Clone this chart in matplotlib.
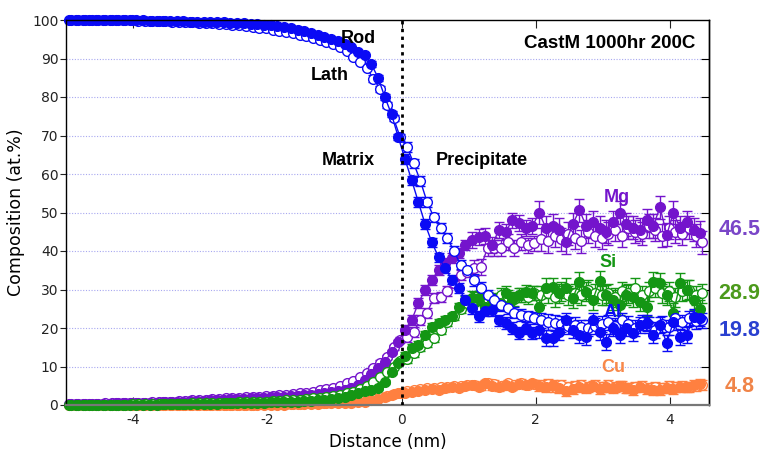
import numpy as np
import matplotlib
matplotlib.use('Agg')
import matplotlib.pyplot as plt

plt.rcParams['axes.unicode_minus'] = False

# sampling grids (nm): filled = lath profile, open = rod profile
distance_filled = np.round(np.arange(-4.95, 4.46, 0.1), 2)
distance_open = np.round(distance_filled + 0.03, 2)

al_filled = [99.9, 99.9, 99.9, 99.9, 99.9, 99.9, 99.9, 99.9, 99.9, 99.9,
             99.9, 99.9, 99.8, 99.8, 99.8, 99.8, 99.7, 99.7, 99.6, 99.6,
             99.5, 99.5, 99.4, 99.4, 99.3, 99.2, 99.1, 99.0, 98.9, 98.8,
             98.7, 98.5, 98.2, 97.9, 97.5, 97.1, 96.7, 96.2, 95.7, 95.1,
             94.5, 93.7, 92.9, 91.8, 90.8, 88.5, 85.0, 80.0, 75.5, 69.6,
             63.9, 58.4, 52.7, 47.0, 42.3, 38.4, 35.6, 32.5, 30.4, 27.3,
             25.2, 23.0, 24.5, 24.7, 22.0, 21.3, 20.0, 18.7, 20.0, 18.7,
             19.5, 17.4, 17.4, 19.0, 22.0, 19.5, 18.2, 17.7, 22.0, 19.0,
             16.4, 20.0, 18.2, 20.0, 18.7, 20.8, 21.3, 18.2, 20.8, 16.1,
             21.6, 17.7, 18.2, 22.9, 22.6]
al_open = [99.9, 99.9, 99.9, 99.9, 99.9, 99.9, 99.9, 99.9, 99.9, 99.9,
           99.8, 99.8, 99.8, 99.7, 99.7, 99.6, 99.6, 99.5, 99.4, 99.3,
           99.2, 99.1, 99.0, 98.9, 98.7, 98.6, 98.4, 98.2, 98.0, 97.8,
           97.5, 97.2, 96.9, 96.6, 96.2, 95.8, 95.3, 94.8, 94.3, 93.8,
           93.0, 92.0, 90.5, 89.0, 87.5, 84.8, 82.0, 78.0, 74.5, 69.5,
           67.0, 62.8, 58.2, 52.7, 48.8, 46.0, 43.4, 40.0, 36.4, 35.0,
           32.5, 30.4, 28.5, 27.3, 26.0, 25.2, 24.0, 23.4, 23.0, 22.6,
           22.0, 21.6, 21.3, 21.0, 20.5, 20.8, 20.2, 20.0, 20.5, 21.0,
           21.5, 20.5, 22.0, 21.0, 20.0, 21.5, 20.8, 19.5, 21.0, 20.2,
           22.5, 21.5, 22.5, 21.8, 22.0]

mg_filled = [0.2, 0.2, 0.2, 0.3, 0.3, 0.3, 0.3, 0.4, 0.4, 0.4,
             0.5, 0.5, 0.6, 0.6, 0.7, 0.8, 0.8, 0.9, 1.0, 1.1,
             1.1, 1.2, 1.3, 1.4, 1.5, 1.5, 1.6, 1.7, 1.8, 1.9,
             2.0, 2.1, 2.2, 2.3, 2.4, 2.5, 2.7, 2.9, 3.1, 3.3,
             3.6, 3.9, 4.4, 5.2, 6.4, 8.0, 9.6, 11.2, 13.8, 16.4,
             19.5, 22.0, 26.5, 29.9, 32.5, 35.0, 36.9, 38.2, 39.5, 41.6,
             42.9, 43.6, 43.9, 41.6, 45.5, 45.0, 48.0, 47.3, 46.0, 46.5,
             49.9, 46.0, 46.5, 45.5, 42.3, 47.0, 50.6, 46.5, 47.5, 46.0,
             45.0, 47.5, 49.9, 47.0, 46.0, 45.5, 48.0, 46.5, 51.4, 44.2,
             49.9, 46.0, 47.5, 45.5, 44.7]
mg_open = [0.2, 0.2, 0.3, 0.3, 0.3, 0.4, 0.4, 0.4, 0.5, 0.5,
           0.6, 0.6, 0.7, 0.8, 0.8, 0.9, 1.0, 1.1, 1.2, 1.3,
           1.4, 1.5, 1.6, 1.7, 1.8, 1.9, 2.0, 2.1, 2.2, 2.3,
           2.4, 2.5, 2.6, 2.8, 3.0, 3.2, 3.5, 3.8, 4.1, 4.5,
           5.0, 5.6, 6.3, 7.2, 8.3, 9.5, 11.0, 12.5, 15.0, 17.0,
           17.7, 19.0, 22.0, 24.0, 27.8, 28.0, 29.6, 31.7, 33.8, 34.5,
           35.6, 35.8, 40.8, 40.8, 40.8, 42.3, 40.8, 42.3, 41.5, 42.0,
           43.0, 42.5, 44.0, 43.0, 44.5, 43.5, 42.5, 45.0, 44.0, 43.5,
           44.5, 45.5, 44.0, 46.0, 45.0, 44.5, 46.5, 45.5, 44.0, 46.0,
           45.0, 44.5, 46.0, 44.0, 42.3]

si_filled = [0.0, 0.0, 0.0, 0.0, 0.0, 0.0, 0.1, 0.1, 0.1, 0.1,
             0.1, 0.1, 0.1, 0.1, 0.2, 0.2, 0.2, 0.2, 0.2, 0.3,
             0.3, 0.3, 0.3, 0.4, 0.4, 0.4, 0.5, 0.5, 0.6, 0.6,
             0.7, 0.7, 0.8, 0.8, 0.9, 1.0, 1.1, 1.3, 1.4, 1.6,
             1.8, 2.1, 2.5, 3.0, 3.6, 3.9, 4.4, 6.0, 8.6, 10.9,
             12.7, 14.8, 15.6, 18.2, 20.3, 21.3, 22.0, 23.0, 25.5, 27.3,
             27.8, 27.8, 25.5, 27.3, 26.5, 29.0, 27.3, 28.6, 29.4, 29.2,
             25.5, 30.4, 30.6, 29.0, 30.4, 27.8, 32.0, 29.4, 27.3, 32.3,
             28.6, 27.3, 26.0, 28.6, 28.0, 26.8, 25.5, 32.0, 31.7, 28.5,
             23.9, 31.7, 29.9, 27.3, 24.9]
si_open = [0.0, 0.0, 0.0, 0.1, 0.1, 0.1, 0.1, 0.1, 0.1, 0.2,
           0.2, 0.2, 0.2, 0.2, 0.3, 0.3, 0.3, 0.3, 0.4, 0.4,
           0.4, 0.5, 0.5, 0.6, 0.6, 0.7, 0.7, 0.8, 0.9, 0.9,
           1.0, 1.1, 1.2, 1.3, 1.4, 1.5, 1.7, 1.9, 2.1, 2.3,
           2.6, 3.0, 3.5, 4.2, 5.0, 6.0, 7.3, 8.6, 10.0, 11.5,
           12.0, 13.5, 15.0, 16.0, 17.4, 19.5, 21.5, 23.0, 25.0, 26.5,
           27.5, 28.0, 27.5, 27.0, 28.5, 28.0, 27.5, 28.5, 28.0, 29.0,
           28.5, 29.0, 28.0, 29.5, 28.5, 29.0, 28.5, 30.0, 29.0, 28.5,
           29.0, 28.0, 29.5, 29.0, 30.5, 28.5, 29.5, 30.5, 29.0, 29.5,
           28.0, 29.5, 30.0, 28.5, 29.0]

cu_filled = [0.0] * 20 + [
             0.0, 0.0, 0.0, 0.0, 0.0, 0.1, 0.1, 0.1, 0.1, 0.1,
             0.1, 0.1, 0.1, 0.2, 0.2, 0.2, 0.3, 0.3, 0.4, 0.4,
             0.4, 0.5, 0.6, 0.7, 0.9, 1.2, 1.5, 2.0, 2.5, 3.0,
             3.2, 3.5, 3.6, 4.0, 4.2, 4.0, 4.3, 4.6, 4.4, 5.0,
             5.2, 4.8, 5.6, 5.0, 4.6, 5.3, 4.8, 5.5, 5.2, 5.6,
             5.0, 4.6, 5.2, 4.4, 3.6, 4.2, 4.8, 4.5, 5.0, 4.2,
             4.8, 4.5, 5.0, 4.4, 4.0, 4.6, 4.2, 4.0, 3.8, 4.5,
             4.2, 4.8, 4.6, 5.2, 5.5]
cu_open = [0.0] * 20 + [
           0.0, 0.0, 0.0, 0.1, 0.1, 0.1, 0.1, 0.1, 0.2, 0.2,
           0.2, 0.2, 0.3, 0.3, 0.3, 0.4, 0.4, 0.5, 0.6, 0.7,
           0.8, 0.9, 1.0, 1.2, 1.4, 1.7, 2.0, 2.4, 2.8, 3.2,
           3.6, 3.9, 4.2, 4.3, 4.5, 4.6, 4.7, 4.9, 5.0, 5.2,
           5.3, 5.0, 5.8, 5.4, 5.0, 5.6, 5.2, 5.7, 5.3, 5.5,
           5.1, 5.5, 4.8, 5.2, 4.6, 4.9, 5.3, 4.7, 5.1, 4.8,
           5.2, 4.6, 4.9, 4.3, 4.7, 5.0, 4.5, 4.8, 4.4, 5.0,
           4.6, 5.0, 4.7, 4.9, 5.3]

# error bar half-widths (at.%) by region: <-0.5, -0.5..0, 0..1, 1..2, 2..4.5
al_err = [0.2] * 45 + [0.8] * 5 + [1.2] * 10 + [1.5] * 10 + [2.0] * 25
mg_err = [0.2] * 45 + [0.6] * 5 + [1.3] * 10 + [2.0] * 10 + [3.0] * 25
si_err = [0.1] * 45 + [0.5] * 5 + [1.0] * 10 + [1.8] * 10 + [2.5] * 25
cu_err = [0.1] * 45 + [0.3] * 5 + [0.8] * 10 + [1.0] * 10 + [1.3] * 25

elements = ['Cu', 'Mg', 'Si', 'Al']
mean_values = {'Mg': '46.5', 'Si': '28.9', 'Al': '19.8', 'Cu': '4.8'}


def draw_profile(ax, x, y, err, color, filled):
    face = color if filled else 'white'
    cont = ax.errorbar(x, y, yerr=err, fmt='-o', color=color, lw=1.0,
                       ms=7, mfc=face, mec=color, mew=1.0,
                       elinewidth=1.0, capsize=3.5, capthick=1.0)
    for art in cont.lines[2] + cont.lines[1]:
        art.set_clip_on(False)
    cont.lines[0].set_clip_on(False)


def main() -> None:
    fig = plt.figure(figsize=(7.64, 4.51), dpi=100)
    ax = fig.add_axes([66 / 764, 46 / 451, 643 / 764, 385 / 451])

    colors = {'Al': '#0a0af5', 'Mg': '#7414cc', 'Si': '#149614', 'Cu': '#ff8040'}
    series = {
        'Cu': (cu_filled, cu_open, cu_err),
        'Mg': (mg_filled, mg_open, mg_err),
        'Si': (si_filled, si_open, si_err),
        'Al': (al_filled, al_open, al_err),
    }
    for el in elements:
        filled, opened, err = series[el]
        draw_profile(ax, distance_open, opened, err, colors[el], False)
        draw_profile(ax, distance_filled, filled, err, colors[el], True)

    ax.set_xlim(-5.0, 4.58)
    ax.set_ylim(0, 100)
    ax.set_xticks([-4, -2, 0, 2, 4])
    ax.set_yticks(range(0, 101, 10))
    for yv in range(10, 100, 10):
        ax.axhline(yv, color='#a8a8f0', lw=0.8, ls=(0, (1, 1.5)), zorder=0)
    ax.axvline(0, color='black', lw=2.0, ls=(0, (1.2, 1.6)), zorder=5)

    ax.tick_params(axis='both', labelsize=10, colors='#222222')
    ax.tick_params(axis='y', direction='out', length=4, pad=1.5, right=False)
    ax.tick_params(axis='x', direction='in', length=6, top=True, pad=6)
    sec = ax.secondary_yaxis('right')
    sec.set_yticks(range(10, 100, 10))
    sec.tick_params(direction='in', length=6, labelright=False)
    for sp in ['top', 'right', 'left']:
        ax.spines[sp].set_linewidth(1.0)
    ax.spines['bottom'].set_color('#777777')
    ax.spines['bottom'].set_linewidth(1.6)
    sec.spines['right'].set_linewidth(1.0)

    ax.set_xlabel('Distance (nm)', fontsize=12, labelpad=4)
    ax.set_ylabel('Composition (at.%)', fontsize=12.5, labelpad=5)

    bold = dict(fontsize=13, fontweight='bold', family='Liberation Sans', zorder=10)
    ax.text(-0.65, 95.2, 'Rod', ha='center', va='center', **bold)
    ax.text(-1.07, 85.5, 'Lath', ha='center', va='center', **bold)
    ax.text(-0.8, 63.5, 'Matrix', ha='center', va='center', **bold)
    ax.text(1.19, 63.5, 'Precipitate', ha='center', va='center', **bold)
    ax.text(4.38, 93.8, 'CastM 1000hr 200C', ha='right', va='center',
            fontsize=13.5, family='Liberation Sans', fontweight='bold')

    ax.text(3.2, 54.0, 'Mg', color=colors['Mg'], ha='center', va='center', **bold)
    ax.text(3.07, 37.0, 'Si', color=colors['Si'], ha='center', va='center', **bold)
    ax.text(3.15, 24.0, 'Al', color=colors['Al'], ha='center', va='center', **bold)
    ax.text(3.15, 9.8, 'Cu', color='#f8884a', ha='center', va='center', **bold)

    right = dict(fontsize=15.5, fontweight='bold', family='Liberation Sans',
                 transform=ax.get_yaxis_transform(), ha='center', va='center')
    ax.text(1.047, 45.5, mean_values['Mg'], color='#7a46c8', **right)
    ax.text(1.047, 28.9, mean_values['Si'], color='#4c9a1c', **right)
    ax.text(1.047, 19.3, mean_values['Al'], color='#2a40d0', **right)
    ax.text(1.047, 4.8, mean_values['Cu'], color='#f08448', **right)

    fig.savefig('out.png', dpi=100)
    plt.close(fig)


if __name__ == '__main__':
    main()
